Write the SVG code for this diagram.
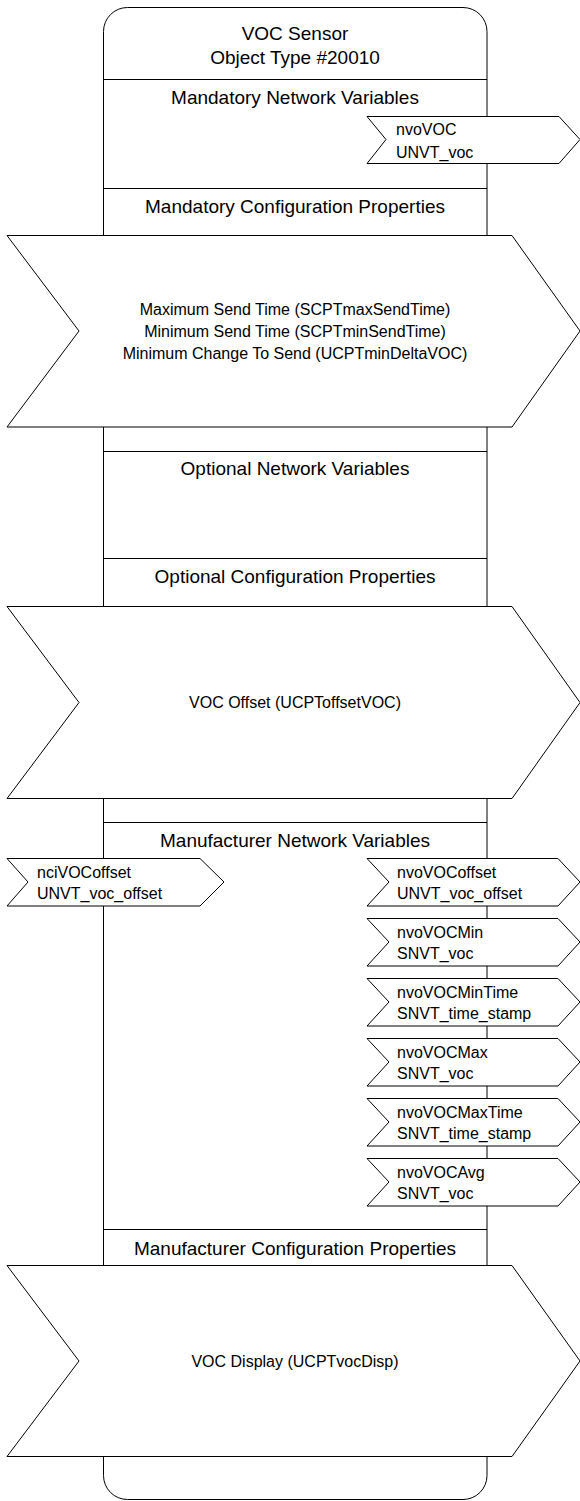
<svg xmlns="http://www.w3.org/2000/svg" width="580" height="1501" viewBox="0 0 580 1501">
<style>
  .ln { stroke: #000; stroke-width: 1; fill: none; }
  .shape { stroke: #000; stroke-width: 1; fill: #fff; stroke-linejoin: miter; }
  .hdr { font-family: "Liberation Sans", Arial, sans-serif; font-size: 19px; fill: #000; text-anchor: middle; }
  .cp { font-family: "Liberation Sans", Arial, sans-serif; font-size: 16px; fill: #000; text-anchor: middle; }
  .nv { font-family: "Liberation Sans", Arial, sans-serif; font-size: 16px; fill: #000; }
</style>
<rect width="580" height="1501" fill="#fff"/>
<g id="object-box">
  <rect class="ln" x="103.5" y="7.5" width="383.5" height="1492" rx="24" ry="24"/>
  <line class="ln" x1="103.5" y1="79.5" x2="487" y2="79.5"/>
  <line class="ln" x1="103.5" y1="188.5" x2="487" y2="188.5"/>
  <line class="ln" x1="103.5" y1="451.5" x2="487" y2="451.5"/>
  <line class="ln" x1="103.5" y1="558.5" x2="487" y2="558.5"/>
  <line class="ln" x1="103.5" y1="822.5" x2="487" y2="822.5"/>
  <line class="ln" x1="103.5" y1="1229.5" x2="487" y2="1229.5"/>
  <text class="hdr" x="295" y="39.5">VOC Sensor</text>
  <text class="hdr" x="295" y="64">Object Type #20010</text>
  <text class="hdr" x="295" y="103.5">Mandatory Network Variables</text>
  <text class="hdr" x="295" y="212.5">Mandatory Configuration Properties</text>
  <text class="hdr" x="295" y="475">Optional Network Variables</text>
  <text class="hdr" x="295" y="582.5">Optional Configuration Properties</text>
  <text class="hdr" x="295" y="846.5">Manufacturer Network Variables</text>
  <text class="hdr" x="295" y="1255">Manufacturer Configuration Properties</text>
</g>
<g id="nvoVOC">
  <polygon class="shape" points="367,116.5 559,116.5 580,139.5 559,163.5 367,163.5 386,139.5"/>
  <text class="nv" x="396" y="135">nvoVOC</text>
  <text class="nv" x="396" y="158">UNVT_voc</text>
</g>
<g id="mandatory-cp">
  <polygon class="shape" points="7,235.5 512,235.5 580,331 512,427 7,427 79,331"/>
  <text class="cp" x="295" y="315">Maximum Send Time (SCPTmaxSendTime)</text>
  <text class="cp" x="295" y="337">Minimum Send Time (SCPTminSendTime)</text>
  <text class="cp" x="295" y="359">Minimum Change To Send (UCPTminDeltaVOC)</text>
</g>
<g id="optional-cp">
  <polygon class="shape" points="7,606.5 512,606.5 580,702.5 512,798.5 7,798.5 79,702.5"/>
  <text class="cp" x="295" y="708">VOC Offset (UCPToffsetVOC)</text>
</g>
<g id="nciVOCoffset">
  <polygon class="shape" points="7,858.5 200,858.5 224,882 200,906 7,906 28,882"/>
  <text class="nv" x="37" y="878">nciVOCoffset</text>
  <text class="nv" x="37" y="899">UNVT_voc_offset</text>
</g>
<g id="nvoVOCoffset">
  <polygon class="shape" points="367,858.5 558,858.5 580,882 558,906 367,906 389,882"/>
  <text class="nv" x="397" y="878">nvoVOCoffset</text>
  <text class="nv" x="397" y="899">UNVT_voc_offset</text>
</g>
<g id="nvoVOCMin">
  <polygon class="shape" points="367,918.5 558,918.5 580,942 558,966 367,966 389,942"/>
  <text class="nv" x="397" y="938">nvoVOCMin</text>
  <text class="nv" x="397" y="959">SNVT_voc</text>
</g>
<g id="nvoVOCMinTime">
  <polygon class="shape" points="367,978.5 558,978.5 580,1002 558,1026 367,1026 389,1002"/>
  <text class="nv" x="397" y="998">nvoVOCMinTime</text>
  <text class="nv" x="397" y="1019">SNVT_time_stamp</text>
</g>
<g id="nvoVOCMax">
  <polygon class="shape" points="367,1038.5 558,1038.5 580,1062 558,1086 367,1086 389,1062"/>
  <text class="nv" x="397" y="1058">nvoVOCMax</text>
  <text class="nv" x="397" y="1079">SNVT_voc</text>
</g>
<g id="nvoVOCMaxTime">
  <polygon class="shape" points="367,1098.5 558,1098.5 580,1122 558,1146 367,1146 389,1122"/>
  <text class="nv" x="397" y="1118">nvoVOCMaxTime</text>
  <text class="nv" x="397" y="1139">SNVT_time_stamp</text>
</g>
<g id="nvoVOCAvg">
  <polygon class="shape" points="367,1158.5 558,1158.5 580,1182 558,1206 367,1206 389,1182"/>
  <text class="nv" x="397" y="1178">nvoVOCAvg</text>
  <text class="nv" x="397" y="1199">SNVT_voc</text>
</g>
<g id="manufacturer-cp">
  <polygon class="shape" points="7,1265.5 512,1265.5 580,1361 512,1456.5 7,1456.5 79,1361"/>
  <text class="cp" x="295" y="1367">VOC Display (UCPTvocDisp)</text>
</g>
<g id="connectors"/>
</svg>
